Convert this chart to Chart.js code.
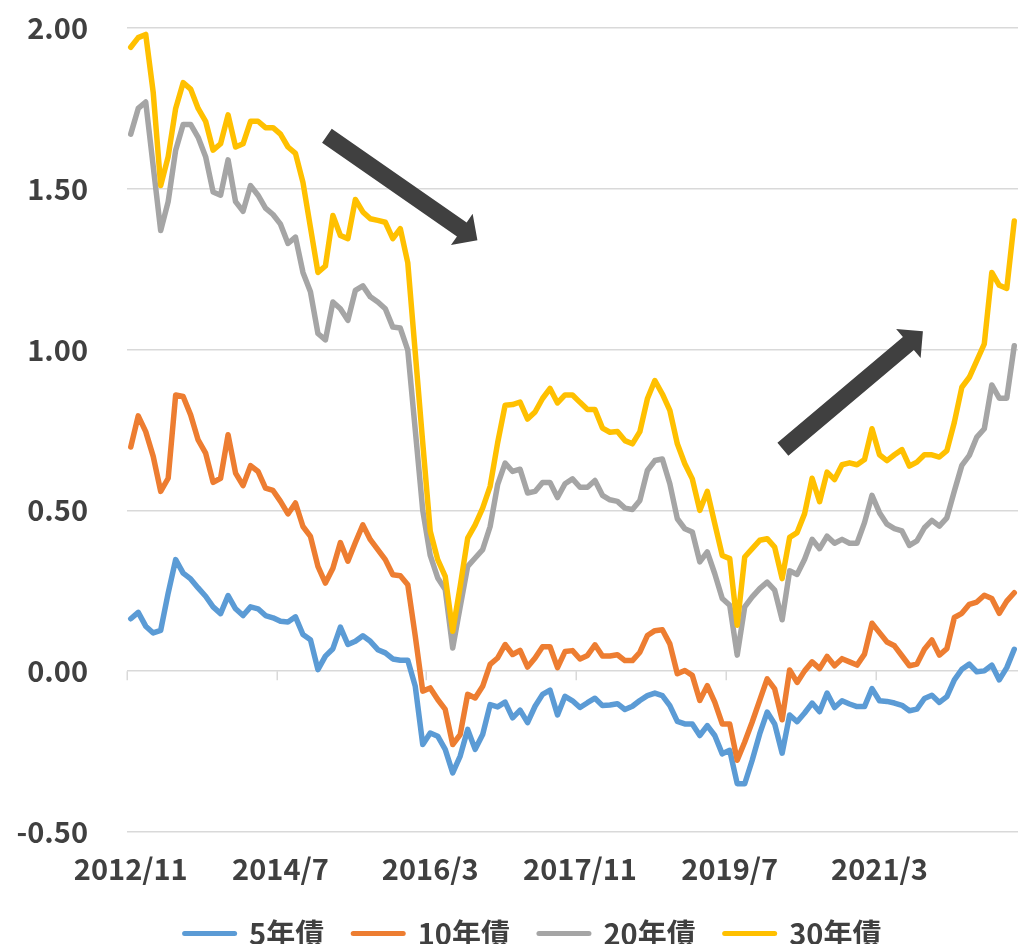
<!DOCTYPE html>
<html>
<head>
<meta charset="utf-8">
<script src="https://cdn.jsdelivr.net/npm/chart.js@4/dist/chart.umd.min.js"></script>
<style>
  html, body { margin: 0; padding: 0; background: #fff; overflow: hidden; }
  #wrap { position: relative; width: 1018px; height: 958px; }
</style>
</head>
<body>
<div id="wrap"><canvas id="line"></canvas></div>
<script>
// monthly JGB yields, 2012/11 .. 2022/9
const startYear = 2012
const startMonth = 11
const tickEvery = 20

const yield5 = [
  0.163, 0.183, 0.140, 0.119, 0.127, 0.243, 0.347, 0.305, 0.287, 0.259,
  0.233, 0.200, 0.179, 0.235, 0.194, 0.173, 0.200, 0.194, 0.173, 0.166,
  0.155, 0.153, 0.169, 0.114, 0.098, 0.005, 0.047, 0.070, 0.137, 0.083,
  0.093, 0.110, 0.093, 0.067, 0.057, 0.038, 0.034, 0.034, -0.047, -0.228,
  -0.192, -0.202, -0.243, -0.316, -0.264, -0.181, -0.243, -0.197, -0.104, -0.111,
  -0.096, -0.145, -0.121, -0.160, -0.109, -0.072, -0.059, -0.136, -0.078, -0.092,
  -0.113, -0.098, -0.084, -0.107, -0.105, -0.101, -0.119, -0.109, -0.091, -0.076,
  -0.068, -0.076, -0.107, -0.156, -0.164, -0.164, -0.200, -0.169, -0.200, -0.257,
  -0.246, -0.350, -0.350, -0.277, -0.195, -0.127, -0.164, -0.255, -0.136, -0.157,
  -0.130, -0.099, -0.126, -0.068, -0.113, -0.092, -0.102, -0.110, -0.110, -0.054,
  -0.092, -0.094, -0.099, -0.106, -0.123, -0.118, -0.085, -0.075, -0.097, -0.079,
  -0.027, 0.006, 0.022, -0.002, 0.001, 0.019, -0.027, 0.011, 0.068
]
const yield10 = [
  0.697, 0.794, 0.745, 0.668, 0.559, 0.600, 0.859, 0.854, 0.797, 0.719,
  0.678, 0.587, 0.600, 0.735, 0.616, 0.577, 0.639, 0.621, 0.569, 0.562,
  0.528, 0.489, 0.523, 0.450, 0.419, 0.326, 0.274, 0.320, 0.400, 0.342,
  0.400, 0.455, 0.409, 0.378, 0.347, 0.300, 0.297, 0.269, 0.109, -0.062,
  -0.052, -0.088, -0.119, -0.228, -0.197, -0.072, -0.083, -0.047, 0.021, 0.041,
  0.083, 0.052, 0.065, 0.013, 0.041, 0.076, 0.076, 0.011, 0.061, 0.064,
  0.038, 0.049, 0.082, 0.047, 0.047, 0.051, 0.033, 0.033, 0.059, 0.111,
  0.126, 0.129, 0.085, -0.008, 0.002, -0.013, -0.091, -0.045, -0.096, -0.164,
  -0.164, -0.277, -0.220, -0.158, -0.091, -0.024, -0.055, -0.151, 0.004, -0.035,
  0.001, 0.029, 0.008, 0.046, 0.017, 0.039, 0.029, 0.019, 0.053, 0.149,
  0.120, 0.091, 0.079, 0.048, 0.017, 0.022, 0.068, 0.097, 0.050, 0.070,
  0.167, 0.180, 0.208, 0.215, 0.236, 0.226, 0.180, 0.218, 0.244
]
const yield20 = [
  1.67, 1.75, 1.77, 1.57, 1.37, 1.46, 1.62, 1.70, 1.70, 1.66,
  1.60, 1.49, 1.48, 1.59, 1.46, 1.43, 1.51, 1.48, 1.44, 1.42,
  1.39, 1.33, 1.35, 1.24, 1.18, 1.05, 1.03, 1.148, 1.127, 1.091,
  1.184, 1.198, 1.164, 1.148, 1.127, 1.070, 1.067, 0.998, 0.750, 0.500,
  0.360, 0.290, 0.254, 0.072, 0.200, 0.326, 0.352, 0.378, 0.450, 0.580,
  0.647, 0.621, 0.628, 0.554, 0.559, 0.587, 0.587, 0.540, 0.583, 0.598,
  0.572, 0.572, 0.593, 0.547, 0.533, 0.528, 0.507, 0.503, 0.531, 0.624,
  0.655, 0.660, 0.583, 0.474, 0.443, 0.433, 0.340, 0.371, 0.303, 0.226,
  0.205, 0.050, 0.200, 0.231, 0.257, 0.277, 0.252, 0.160, 0.312, 0.301,
  0.348, 0.410, 0.381, 0.420, 0.398, 0.410, 0.398, 0.398, 0.462, 0.547,
  0.493, 0.457, 0.443, 0.436, 0.391, 0.405, 0.446, 0.469, 0.451, 0.477,
  0.560, 0.640, 0.671, 0.728, 0.754, 0.890, 0.849, 0.849, 1.012
]
const yield30 = [
  1.94, 1.97, 1.98, 1.80, 1.51, 1.60, 1.75, 1.83, 1.81, 1.75,
  1.71, 1.62, 1.64, 1.73, 1.63, 1.64, 1.71, 1.71, 1.69, 1.69,
  1.67, 1.63, 1.61, 1.52, 1.38, 1.24, 1.26, 1.417, 1.355, 1.345,
  1.467, 1.428, 1.407, 1.402, 1.396, 1.345, 1.376, 1.270, 0.990, 0.710,
  0.435, 0.347, 0.295, 0.124, 0.264, 0.414, 0.455, 0.507, 0.575, 0.710,
  0.827, 0.829, 0.837, 0.784, 0.806, 0.848, 0.879, 0.834, 0.859, 0.859,
  0.836, 0.814, 0.814, 0.756, 0.743, 0.745, 0.717, 0.707, 0.745, 0.847,
  0.904, 0.862, 0.811, 0.707, 0.645, 0.598, 0.500, 0.559, 0.459, 0.360,
  0.350, 0.143, 0.355, 0.381, 0.407, 0.412, 0.386, 0.288, 0.416, 0.431,
  0.490, 0.600, 0.527, 0.619, 0.596, 0.642, 0.648, 0.642, 0.658, 0.754,
  0.673, 0.655, 0.673, 0.689, 0.638, 0.650, 0.673, 0.673, 0.666, 0.686,
  0.774, 0.883, 0.914, 0.966, 1.018, 1.240, 1.200, 1.190, 1.400
]

const seriesNames = ['5年債', '10年債', '20年債', '30年債']
const seriesColors = ['#5b9bd5', '#ed7d31', '#a5a5a5', '#ffc000']

// annotation arrows, [category index, yield]
const arrowFrom = [[26.2, 1.665], [87.1, 0.69]]
const arrowTo = [[46.3, 1.34], [105.8, 1.057]]

const categories = yield5.map((_, i) => {
  const m = startMonth - 1 + i
  return (startYear + Math.floor(m / 12)) + '/' + (m % 12 + 1)
})

const textColor = '#404040'
const gridColor = '#d9d9d9'
const font = 'Noto Sans CJK JP'

// small tick marks hanging under the zero line, at category boundaries
const zeroTicks = {
  id: 'zeroTicks',
  beforeDatasetsDraw(chart) {
    const {ctx, scales: {x, y}} = chart
    const y0 = y.getPixelForValue(0)
    const half = (x.getPixelForValue(1) - x.getPixelForValue(0)) / 2
    ctx.save()
    ctx.strokeStyle = gridColor
    ctx.lineWidth = 1.5
    for (let i = 0; i < categories.length; i += tickEvery) {
      const px = Math.round(x.getPixelForValue(i) - half) + 0.25
      ctx.beginPath()
      ctx.moveTo(px, y0)
      ctx.lineTo(px, y0 + 9)
      ctx.stroke()
    }
    ctx.restore()
  }
}

const arrowPlugin = {
  id: 'arrows',
  afterDatasetsDraw(chart) {
    const {ctx, scales: {x, y}} = chart
    ctx.save()
    ctx.fillStyle = '#404040'
    arrowFrom.forEach((from, i) => {
      const x1 = x.getPixelForValue(from[0]), y1 = y.getPixelForValue(from[1])
      const x2 = x.getPixelForValue(arrowTo[i][0]), y2 = y.getPixelForValue(arrowTo[i][1])
      const len = Math.hypot(x2 - x1, y2 - y1)
      const ux = (x2 - x1) / len, uy = (y2 - y1) / len
      const nx = -uy, ny = ux
      const shaft = 8.5, head = 19, headLen = 19
      const bx = x2 - ux * headLen, by = y2 - uy * headLen
      ctx.beginPath()
      ctx.moveTo(x1 + nx * shaft, y1 + ny * shaft)
      ctx.lineTo(bx + nx * shaft, by + ny * shaft)
      ctx.lineTo(bx + nx * head, by + ny * head)
      ctx.lineTo(x2, y2)
      ctx.lineTo(bx - nx * head, by - ny * head)
      ctx.lineTo(bx - nx * shaft, by - ny * shaft)
      ctx.lineTo(x1 - nx * shaft, y1 - ny * shaft)
      ctx.closePath()
      ctx.fill()
    })
    ctx.restore()
  }
}

// legend sits centred over x 48..1018 like the original
const legendShift = {
  id: 'legendShift',
  afterLayout(chart) {
    if (chart.legend) chart.legend.left = 48
  }
}

const allSeries = [yield5, yield10, yield20, yield30]

const lineConfig = {
  type: 'line',
  data: {
    labels: categories,
    datasets: allSeries.map((values, i) => ({
      label: seriesNames[i],
      data: values,
      borderColor: seriesColors[i],
      backgroundColor: seriesColors[i],
      borderWidth: 5.5,
      borderCapStyle: 'round',
      borderJoinStyle: 'round',
      pointRadius: 0,
      pointHoverRadius: 0,
      pointStyle: 'line',
      tension: 0,
      order: allSeries.length - i
    }))
  },
  options: {
    responsive: true,
    maintainAspectRatio: false,
    animation: false,
    devicePixelRatio: 1,
    layout: {
      padding: {left: 0, top: 28, right: 0, bottom: 0}
    },
    scales: {
      x: {
        offset: true,
        grid: {display: false, drawTicks: false},
        border: {display: false},
        afterBuildTicks: (scale) => {
          scale.ticks = scale.ticks.filter(t => t.value % tickEvery === 0)
        },
        afterFit: (scale) => { scale.height = 58 },
        ticks: {
          autoSkip: false,
          maxRotation: 0,
          padding: 20,
          color: textColor,
          font: {family: font, size: 29, weight: 'bold'},
          callback: (value) => categories[value]
        }
      },
      y: {
        min: -0.5,
        max: 2.0,
        grid: {color: gridColor, lineWidth: 1.5, drawTicks: false},
        border: {display: false},
        afterFit: (scale) => {
          scale.width = 127
          scale.paddingTop = 0
          scale.paddingBottom = 0
        },
        ticks: {
          stepSize: 0.5,
          padding: 39,
          color: textColor,
          font: {family: font, size: 29, weight: 'bold'},
          callback: (value) => value.toFixed(2)
        }
      }
    },
    plugins: {
      tooltip: {enabled: false},
      legend: {
        display: true,
        position: 'bottom',
        labels: {
          usePointStyle: true,
          pointStyleWidth: 50,
          padding: 29,
          color: textColor,
          font: {family: font, size: 29, weight: 'bold'},
          generateLabels: (chart) => Chart.defaults.plugins.legend.labels.generateLabels(chart).map(item => ({
            ...item,
            pointStyle: 'line',
            lineWidth: 5,
            lineCap: 'round',
            strokeStyle: seriesColors[item.datasetIndex]
          })),
          sort: (a, b) => a.datasetIndex - b.datasetIndex
        }
      }
    }
  },
  plugins: [zeroTicks, arrowPlugin, legendShift]
}

const lineCtx = document.getElementById('line')
window.myLine = new Chart(lineCtx, lineConfig)
</script>
</body>
</html>
